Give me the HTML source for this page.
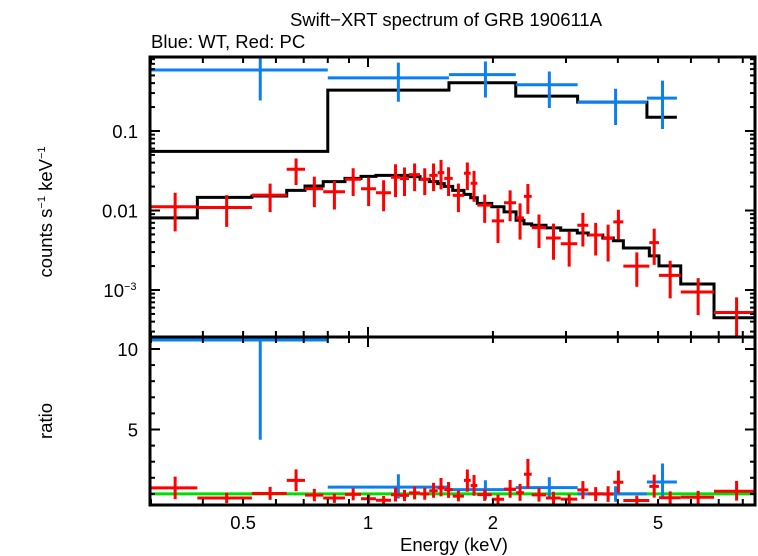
<!DOCTYPE html>
<html><head><meta charset="utf-8"><style>
html,body{margin:0;padding:0;background:#fff;}
svg{display:block;font-family:"Liberation Sans",sans-serif;}
</style></head><body>
<svg id="chart" width="758" height="556" viewBox="0 0 758 556" xmlns="http://www.w3.org/2000/svg">
<text x="446" y="26" font-size="18.5" text-anchor="middle">Swift−XRT spectrum of GRB 190611A</text>
<text x="151" y="48" font-size="18.5">Blue: WT, Red: PC</text>
<text transform="translate(52,212) rotate(-90)" font-size="18.5" text-anchor="middle">counts s<tspan font-size="11" dy="-7">−1</tspan><tspan dy="7"> keV</tspan><tspan font-size="11" dy="-7">−1</tspan></text>
<text transform="translate(52,421) rotate(-90)" font-size="18.5" text-anchor="middle">ratio</text>
<text x="454" y="551" font-size="18.5" text-anchor="middle">Energy (keV)</text>
<g id="g"></g>
</svg>
<script>
// WT (blue) data
const wtEdges=[0.3,0.80,1.567,2.27,3.20,4.70,5.55];
const wtVal=[0.586,0.465,0.512,0.382,0.231,0.259];
const wtHi=[1.0,0.725,0.748,0.56,0.34,0.43];
const wtLo=[0.242,0.233,0.264,0.195,0.119,0.106];
const wtModel=[0.0555,0.327,0.405,0.275,0.231,0.149];
// PC (red) data
const pcEdges=[0.298,0.388,0.525,0.637,0.705,0.780,0.880,0.962,1.045,1.136,1.194,1.255,1.335,1.405,1.472,1.527,1.600,1.703,1.768,1.834,1.987,2.127,2.274,2.376,2.480,2.685,2.913,3.194,3.395,3.679,3.90,4.124,4.763,5.025,5.67,6.82,8.64];
const pcVal=[0.01114,0.01091,0.01563,0.0330,0.0188,0.0172,0.0247,0.0188,0.01675,0.0262,0.0252,0.0283,0.0247,0.0277,0.0300,0.0254,0.01549,0.0294,0.0220,0.01169,0.00740,0.01250,0.00807,0.01503,0.00610,0.00451,0.00382,0.00652,0.00492,0.00446,0.00719,0.00200,0.00394,0.00153,0.000944,0.000522];
const pcHi=[0.01675,0.01563,0.02178,0.0451,0.0267,0.0235,0.0340,0.0259,0.0240,0.0382,0.0347,0.0390,0.0340,0.0390,0.0434,0.0350,0.02178,0.0401,0.0315,0.01581,0.01059,0.01791,0.01227,0.02153,0.00889,0.00684,0.00547,0.00935,0.00698,0.00665,0.01021,0.00297,0.00592,0.00233,0.00141,0.000809];
const pcLo=[0.00547,0.00622,0.00953,0.0209,0.01102,0.01030,0.0152,0.01135,0.00980,0.01472,0.0152,0.01754,0.01563,0.01754,0.01845,0.0152,0.00953,0.01807,0.01288,0.00698,0.00390,0.00733,0.00430,0.00908,0.00337,0.00240,0.00197,0.00353,0.00272,0.00228,0.00430,0.00110,0.00207,0.000785,0.000483,0.000262];
const pcModel=[0.00809,0.01462,0.0152,0.0179,0.0203,0.0231,0.0254,0.0269,0.0277,0.0277,0.0277,0.0267,0.0247,0.0231,0.0218,0.0201,0.0179,0.01596,0.01449,0.01227,0.01114,0.00962,0.00755,0.00678,0.00652,0.00604,0.00564,0.00521,0.00492,0.00451,0.00417,0.00337,0.00269,0.00201,0.00119,0.000447];
const xTicks=[0.5,1,2,5];
const xTickLabels=["0.5","1","2","5"];

const L=150,R=755,T=57,M=337,B=505;
const X=e=>368+415*Math.log10(e);
const Y=v=>131-79.5*(Math.log10(v)+1);
const YR=r=>510-16.1*r;
const g=document.getElementById('g');
const NS='http://www.w3.org/2000/svg';
function ln(x1,y1,x2,y2,c,w){const l=document.createElementNS(NS,'line');l.setAttribute('x1',x1);l.setAttribute('y1',y1);l.setAttribute('x2',x2);l.setAttribute('y2',y2);l.setAttribute('stroke',c);l.setAttribute('stroke-width',w);g.appendChild(l);return l;}
function clip(y,lo,hi){return Math.max(lo,Math.min(hi,y));}

function steps(edges,vals,yf,top,bot,name){
  let d='';
  for(let i=0;i<vals.length;i++){const y=clip(yf(vals[i]),top,bot);d+=(i?'L':'M')+X(edges[i])+','+y+'L'+Math.min(R,X(edges[i+1]))+','+y;}
  const p=document.createElementNS(NS,'path');p.setAttribute('d',d);p.setAttribute('fill','none');p.setAttribute('stroke','#000');p.setAttribute('stroke-width','3');
  
  
  g.appendChild(p);
}
function points(edges,vals,hi,lo,yf,top,bot,col,name){
  for(let i=0;i<vals.length;i++){
    const x1=X(edges[i]),x2=Math.min(R,X(edges[i+1])),xc=X((edges[i]+edges[i+1])/2);
    const grp=document.createElementNS(NS,'g');
    
    
    const yc=yf(vals[i]);
    const a=document.createElementNS(NS,'path');
    let d='';
    if(yc>=top&&yc<=bot)d+='M'+x1+','+yc+'L'+x2+','+yc;
    const y1=clip(yf(hi[i]),top,bot),y2=clip(yf(lo[i]),top,bot);
    if(y2>y1)d+='M'+xc+','+y1+'L'+xc+','+y2;
    a.setAttribute('d',d||'M0,0');a.setAttribute('stroke',col);a.setAttribute('stroke-width','3');a.setAttribute('fill','none');
    grp.appendChild(a);g.appendChild(grp);
  }
}
steps(wtEdges,wtModel,Y,T,M,'wt-model-line');
steps(pcEdges,pcModel,Y,T,M,'pc-model-line');
points(wtEdges,wtVal,wtHi,wtLo,Y,T,M,'#0a80f0','wt-data-point');
points(pcEdges,pcVal,pcHi,pcLo,Y,T,M,'#ff0000','pc-data-point');
const gl=ln(L,YR(1),R,YR(1),'#00dd00',3);


const r=(a,m)=>a.map((v,i)=>v/m[i]);
points(wtEdges,r(wtVal,wtModel),r(wtHi,wtModel),r(wtLo,wtModel),YR,M,B,'#0a80f0','wt-ratio-point');
points(pcEdges,r(pcVal,pcModel),r(pcHi,pcModel),r(pcLo,pcModel),YR,M,B,'#ff0000','pc-ratio-point');

[[T,M],[M,B]].forEach(([t,b],k)=>{
  const f=document.createElementNS(NS,'rect');f.setAttribute('x',L);f.setAttribute('y',t);f.setAttribute('width',R-L);f.setAttribute('height',b-t);f.setAttribute('fill','none');f.setAttribute('stroke','#000');f.setAttribute('stroke-width','3');
  
  
  g.appendChild(f);
  const minors=[0.3,0.4,0.5,0.6,0.7,0.8,0.9,1,2,3,4,5,6,7,8];
  minors.forEach(e=>{const x=X(e);if(x<=L+1||x>=R-1)return;const len=(e===1)?10:6;ln(x,t,x,t+len,'#000',2);ln(x,b,x,b-len,'#000',2);});
});
for(let dec=-4;dec<=0;dec++){for(let m=1;m<10;m++){const v=m*Math.pow(10,dec);const y=Y(v);if(y<T+1||y>M-1)continue;const len=m===1?10:5;ln(L,y,L+len,y,'#000',2);ln(R,y,R-len,y,'#000',2);}}
for(let v=1;v<=10;v++){const y=YR(v);if(y<M+1||y>B-1)continue;const len=(v%5===0)?10:5;ln(L,y,L+len,y,'#000',2);ln(R,y,R-len,y,'#000',2);}
function tx(s,x,y,anchor,name){const t=document.createElementNS(NS,'text');t.setAttribute('x',x);t.setAttribute('y',y);t.setAttribute('font-size','18.5');t.setAttribute('text-anchor',anchor);t.textContent=s;
  
  
  g.appendChild(t);return t;}
tx('0.1',138,Y(0.1)+7,'end','y-tick-label');
tx('0.01',138,Y(0.01)+7,'end','y-tick-label');
tx('10',124,Y(0.001)+7,'end','y-tick-label');
const sup=document.createElementNS(NS,'tspan');sup.setAttribute('font-size','11');sup.setAttribute('dy','-7');sup.textContent='−3';
const t3=tx('',124,Y(0.001)+7,'start','y-tick-label-exp');t3.appendChild(sup);
tx('10',138,YR(10)+7,'end','ratio-tick-label');
tx('5',138,YR(5)+7,'end','ratio-tick-label');
xTicks.forEach((e,i)=>tx(xTickLabels[i],X(e),529,'middle','x-tick-label'));
</script>
</body></html>
